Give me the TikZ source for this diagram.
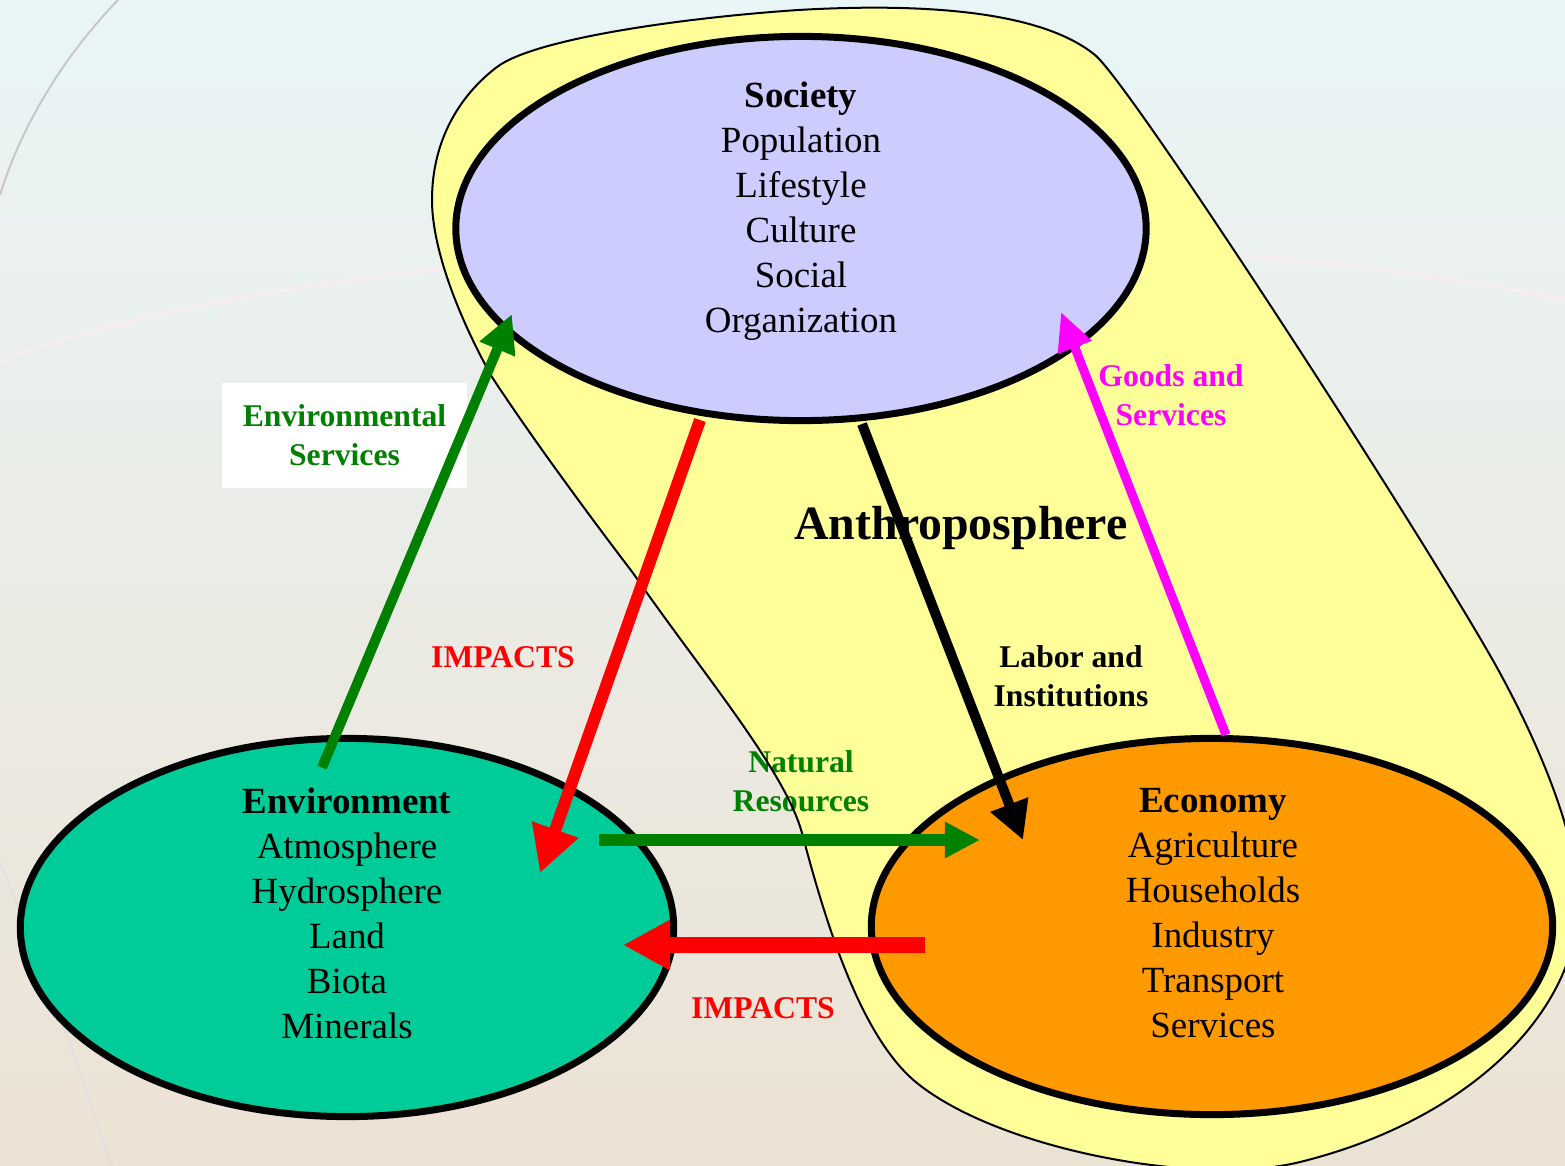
\documentclass[tikz,border=0pt]{standalone}
\usepackage{fontspec}
\setmainfont{Liberation Serif}
\usepackage{tikz}
\usetikzlibrary{arrows.meta,positioning,shapes.geometric,calc}
\definecolor{Ssoc}{HTML}{CCCCFF}
\definecolor{Senv}{HTML}{00CC99}
\definecolor{Seco}{HTML}{FF9900}
\definecolor{Santh}{HTML}{FFFF99}
\definecolor{Sgreen}{HTML}{008000}
\definecolor{Sred}{HTML}{FF0000}
\definecolor{Smag}{HTML}{FF00FF}
\definecolor{BGtop}{HTML}{E9F5F6}
\definecolor{BGmid}{HTML}{F5F8F4}
\definecolor{BGbot}{HTML}{ECE2D4}
\definecolor{BGline}{HTML}{F6EEEE}

\begin{document}
\begin{tikzpicture}[
  x=0.01cm, y=-0.01cm,
  sphere/.style={ellipse, draw, line width=0.7mm, inner sep=0pt},
  body/.style={align=center, font=\fontsize{10.5}{12.8}\selectfont},
  flow/.style={align=center, font=\fontsize{9}{11.1}\selectfont\bfseries},
  anthro/.style={insert path={
    (497,67) .. controls (534,39) and (680,18) .. (798,10)
    .. controls (920,3) and (1040,10) .. (1095,55)
    .. controls (1130,84) and (1400,500) .. (1487,650)
    .. controls (1530,724) and (1578,830) .. (1578,900)
    .. controls (1580,1010) and (1470,1120) .. (1300,1162)
    .. controls (1200,1187) and (1000,1150) .. (917,1083)
    .. controls (860,1037) and (825,920) .. (802,833)
    .. controls (785,770) and (700,670) .. (633,573)
    .. controls (585,510) and (530,435) .. (492,377)
    .. controls (460,320) and (432,250) .. (432,200)
    .. controls (432,140) and (460,95) .. (497,67) -- cycle}},
]
\useasboundingbox (0,0) rectangle (1565,1166);

% ── background ───────────────────────────────────────────────────────
\shade[top color=BGtop, middle color=BGmid, bottom color=BGbot] (0,0) rectangle (1565,1166);
\draw[black!22, line width=0.2mm] (118,0) .. controls (60,60) and (20,130) .. (0,195);
\draw[BGline, line width=0.4mm] (0,362) .. controls (300,240) and (1100,200) .. (1565,300);
\draw[black!12, line width=0.2mm] (0,862) .. controls (40,960) and (80,1070) .. (112,1166);

% ── anthroposphere ───────────────────────────────────────────────────
\fill[Santh, anthro];

% labels on the arrows
\node[flow, text=Sgreen, fill=white, minimum width=2.45cm, minimum height=1.05cm] (lblES) at (344.5,435.5) {Environmental\\Services};
\node[flow, text=Smag] (lblGoods) at (1171,395) {Goods and\\Services};
\node[flow, text=Sred] (lblImpA) at (503,657) {IMPACTS};
\node[flow] (lblLabor) at (1071,676) {Labor and\\Institutions};
\node[flow, text=Sgreen] (lblNR) at (801,781) {Natural\\Resources};
\node[flow, text=Sred] (lblImpB) at (763,1008) {IMPACTS};
\node[font=\fontsize{13.6}{16}\selectfont\bfseries] (lblAnthro) at (961,528) {Anthroposphere};

\draw[line width=0.2mm, anthro];

% ── the three spheres ────────────────────────────────────────────────
\node[sphere, fill=Ssoc, minimum width=6.9cm, minimum height=3.84cm] (soc) at (801,228.5) {};
\node[sphere, fill=Senv, minimum width=6.53cm, minimum height=3.78cm] (env) at (347,927.5) {};
\node[sphere, fill=Seco, minimum width=6.81cm, minimum height=3.76cm] (eco) at (1212,926.5) {};

\node[body] (soctxt) at (801,211) {\textbf{Society}\\Population\\Lifestyle\\Culture\\Social\\Organization};
\node[body] (envtxt) at (347,913) {\textbf{Environment}\\Atmosphere\\Hydrosphere\\Land\\Biota\\Minerals};
\node[body] (ecotxt) at (1213,913) {\textbf{Economy}\\Agriculture\\Households\\Industry\\Transport\\Services};

% ── arrow ends ───────────────────────────────────────────────────────
\coordinate (esA) at ($(env.center)+(-25,-160)$);
\coordinate (esB) at ($(soc.center)+(-289,85.5)$);
\coordinate (impA) at ($(soc.center)+(-101,191.5)$);
\coordinate (impB) at ($(env.center)+(193,-54.5)$);
\coordinate (labA) at ($(soc.center)+(61,195.5)$);
\coordinate (labB) at ($(eco.center)+(-189,-86.5)$);
\coordinate (gsA) at ($(eco.center)+(14,-191.5)$);
\coordinate (gsB) at ($(soc.center)+(260,83.5)$);
\coordinate (nrA) at ($(env.center)+(252,-87.5)$);
\coordinate (nrB) at ($(eco.center)+(-232,-86.5)$);
\coordinate (imA) at ($(eco.center)+(-287,18.5)$);
\coordinate (imB) at ($(env.center)+(276,17.5)$);

% edges
\draw[Sgreen, line width=1mm, -{Triangle[length=3.8mm,width=3.6mm]}] (esA) -- (esB);
\draw[Sred, line width=1.2mm, -{Triangle[length=4.6mm,width=4.6mm]}] (impA) -- (impB);
\draw[line width=1mm, -{Triangle[length=3.8mm,width=3.8mm]}] (labA) -- (labB);
\draw[Smag, line width=0.9mm, -{Triangle[length=3.8mm,width=3.4mm]}] (gsA) -- (gsB);
\draw[Sgreen, line width=1.2mm, -{Triangle[length=3.5mm,width=3.4mm]}] (nrA) -- (nrB);
\draw[Sred, line width=1.6mm, -{Triangle[length=4.7mm,width=4.7mm]}] (imA) -- (imB);

\end{tikzpicture}
\end{document}
